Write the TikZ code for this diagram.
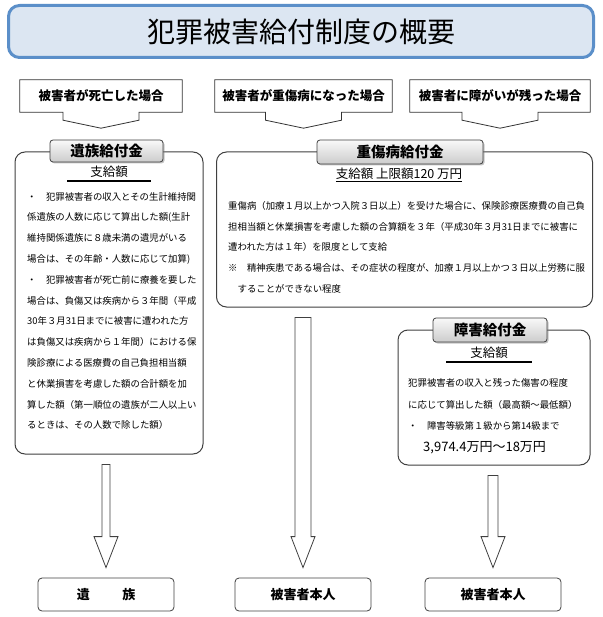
\documentclass[tikz,border=0pt]{standalone}
\usepackage{fontspec}
\setmainfont{Noto Sans CJK JP}
\usetikzlibrary{calc,shadows}
\definecolor{titlefill}{HTML}{DCE6F2}
\definecolor{titleline}{HTML}{5B8FC9}
\tikzset{titlebox/.style={draw=titleline, line width=3pt, fill=titlefill, rounded corners=11pt, minimum width=585pt, minimum height=52pt, font=\fontsize{28}{28}\selectfont},
  casetext/.style={minimum width=#1, minimum height=32pt, inner sep=0pt, font=\fontsize{12.5}{12.5}\selectfont\bfseries},
  caseline/.style={draw=black!80, line width=0.8pt, line join=miter},
  bigbox/.style={draw=black!75, line width=1pt, rounded corners=10pt, fill=white, inner sep=0pt},
  tabbox/.style={draw=black!75, line width=0.8pt, rounded corners=3pt, top color=gray!5, bottom color=gray!40, drop shadow={shadow xshift=1.5pt, shadow yshift=-1.5pt, opacity=0.45}, font=\fontsize{14.5}{14.5}\selectfont\bfseries, inner sep=0pt},
  payhead/.style={inner sep=0pt, font=\fontsize{12.5}{12.5}\selectfont},
  bodytext/.style={align=left, anchor=north west, inner sep=0pt, font=\fontsize{9.4}{20.8}\selectfont},
  endbox/.style={draw=black!75, line width=0.8pt, rounded corners=4pt, minimum width=136pt, minimum height=33pt, font=\fontsize{13}{13}\selectfont\bfseries},
  hollow/.style={draw=black!75, line width=0.8pt, fill=white, line join=miter}}

\begin{document}
\begin{tikzpicture}[x=1pt, y=-1pt]
      \useasboundingbox (0,0) rectangle (602,617);
      % title
      \node [titlebox] (title) at (301,31.5) {犯罪被害給付制度の概要};
      % the three cases
      \node [casetext=162pt] (dead) at (101,96) {被害者が死亡した場合};
      \node [casetext=177pt] (injury) at (303.5,96) {被害者が重傷病になった場合};
      \node [casetext=180pt] (disab) at (500,96) {被害者に障がいが残った場合};
      \foreach \c in {dead,injury,disab}
        \draw [caseline] (\c.north west) -- (\c.north east) -- (\c.south east)
          -- ($(\c.south)+(38,0)$) -- ++(0,8) -- ($(\c.south)+(0,16)$)
          -- ($(\c.south)+(-38,8)$) -- ++(0,-8) -- (\c.south west) -- cycle;
      % benefit boxes
      \node [bigbox, minimum width=188pt, minimum height=302pt] (survbox) at (109,303) {};
      \node [bigbox, minimum width=376pt, minimum height=155pt] (injbox) at (404.5,229.5) {};
      \node [bigbox, minimum width=192pt, minimum height=135pt] (disbox) at (494,397.5) {};
      \node [tabbox, minimum width=113pt, minimum height=22pt] (survtab) at (106.5,151) {遺族給付金};
      \node [tabbox, minimum width=166pt, minimum height=24pt] (injtab) at (400,152) {重傷病給付金};
      \node [tabbox, minimum width=114pt, minimum height=24pt] (distab) at (490,330) {障害給付金};
      % amounts
      \node [payhead] (survpay) at (109,172) {支給額};
      \draw [line width=1.6pt] ($(survpay.south)+(-42,3)$) -- ($(survpay.south)+(42,3)$);
      \node [payhead] (injpay) at (399,175) {\underline{支給額\ 上限額120\ 万円}};
      \node [payhead] (dispay) at (489,353) {支給額};
      \draw [line width=1.6pt] ($(dispay.south)+(-43,3)$) -- ($(dispay.south)+(43,3)$);
      \node [bodytext] (survtext) at (27,192) {・\quad 犯罪被害者の収入とその生計維持関\\
        係遺族の人数に応じて算出した額(生計\\
        維持関係遺族に８歳未満の遺児がいる\\
        場合は、その年齢・人数に応じて加算)\\
        ・\quad 犯罪被害者が死亡前に療養を要した\\
        場合は、負傷又は疾病から３年間（平成\\
        30年３月31日までに被害に遭われた方\\
        は負傷又は疾病から１年間）における保\\
        険診療による医療費の自己負担相当額\\
        と休業損害を考慮した額の合計額を加\\
        算した額（第一順位の遺族が二人以上い\\
        るときは、その人数で除した額）};
      \node [bodytext] (injtext) at (228,201) {重傷病（加療１月以上かつ入院３日以上）を受けた場合に、保険診療医療費の自己負\\
        担相当額と休業損害を考慮した額の合算額を３年（平成30年３月31日までに被害に\\
        遭われた方は１年）を限度として支給\\
        ※\quad 精神疾患である場合は、その症状の程度が、加療１月以上かつ３日以上労務に服\\
        \quad することができない程度};
      \node [bodytext, font=\fontsize{9.4}{21.8}\selectfont] (distext) at (408,378) {犯罪被害者の収入と残った傷害の程度\\
        に応じて算出した額（最高額～最低額）\\
        ・\quad 障害等級第１級から第14級まで\\
        \hspace{1.6em}{\fontsize{13}{13}\selectfont 3,974.4万円～18万円}};
      % who receives
      \node [endbox] (survend) at (106,594.5) {遺\hspace{2.5em}族};
      \node [endbox] (injend) at (303,594.5) {被害者本人};
      \node [endbox] (disend) at (493,594.5) {被害者本人};
      \foreach \s/\t/\w in {survbox/survend/4, injbox/injend/8, disbox/disend/5}
        \draw [hollow] let \p1=(\s.south), \p2=(\t.north) in
          ({\x2-\w pt},{\y1-10pt}) -- ({\x2+\w pt},{\y1-10pt}) -- ({\x2+\w pt},{\y2+41pt})
          -- ({\x2+12pt},{\y2+41pt}) -- (\x2,{\y2+10pt}) -- ({\x2-12pt},{\y2+41pt})
          -- ({\x2-\w pt},{\y2+41pt}) -- cycle;
    \end{tikzpicture}
\end{document}
